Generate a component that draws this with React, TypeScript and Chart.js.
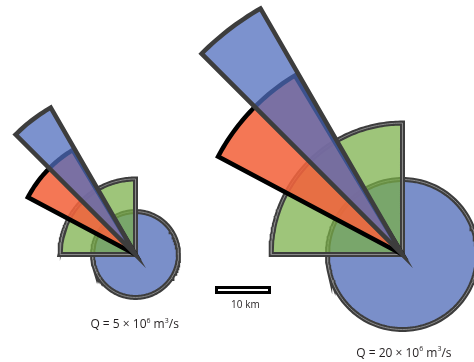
import React, { useEffect, useRef } from 'react';
import { Chart, registerables } from 'chart.js';
Chart.register(...registerables);

const W = 474;
const H = 362;
const PX_PER_KM = 5.3;

// Discharge of each case, in 10^6 m^3/s
const discharges = [5, 20];
// Apex of each rose (km)
const centerX = [25.57, 75.94];
const centerY = [20.28, 20.28];
// Radii of the shapes (km)
const circleRadius = [8.1, 14.15];
const greenRadius = [14.25, 24.8];
const redRadius = [23.0, 39.4];
const blueRadius = [32.0, 53.6];
// Angular extents (degrees, counter-clockwise from east)
const greenAngles = [90, 180];
const redAngles = [121, 152];
const blueAngles = [120, 135];
// Scale bar (km)
const scaleBarStart = [40.85, 13.11];
const scaleBarLength = 10;
const scaleBarHeight = 0.95;
const scaleBarLabel = '10 km';
const scaleBarLabelPos = [46.3, 10.8];
const labelPosX = [25.4, 76.2];
const labelPosY = [7.3, 1.85];

type P = { x: number; y: number };

function sector(cx: number, cy: number, r: number, a0: number, a1: number): P[] {
  const pts: P[] = [{ x: cx, y: cy }];
  const n = Math.max(8, Math.ceil(Math.abs(a1 - a0)));
  for (let i = 0; i <= n; i++) {
    const a = ((a0 + ((a1 - a0) * i) / n) * Math.PI) / 180;
    pts.push({ x: cx + r * Math.cos(a), y: cy + r * Math.sin(a) });
  }
  pts.push({ x: cx, y: cy });
  pts.push(pts[1]);
  return pts;
}

function circle(cx: number, cy: number, r: number): P[] {
  const pts: P[] = [];
  for (let i = 0; i <= 360; i += 2) {
    const a = (i * Math.PI) / 180;
    pts.push({ x: cx + r * Math.cos(a), y: cy + r * Math.sin(a) });
  }
  pts.push(pts[1]);
  return pts;
}

function rect(x: number, y: number, w: number, h: number): P[] {
  return [
    { x, y },
    { x: x + w, y },
    { x: x + w, y: y + h },
    { x, y: y + h },
    { x, y },
    { x: x + w, y },
  ];
}

const DARK = '#3d3d3d';
const LIGHT = '#8c8c8c';

function buildDatasets() {
  const layers: any[] = [];
  const shape = (data: P[], fillColor: string | null, border: string, bw: number) => ({
    data,
    showLine: true,
    fill: fillColor ? 'shape' : false,
    backgroundColor: fillColor || 'rgba(0,0,0,0)',
    borderColor: border,
    borderWidth: bw,
    borderJoinStyle: 'miter',
    pointRadius: 0,
    pointHoverRadius: 0,
    tension: 0,
  });
  for (let g = 0; g < discharges.length; g++) {
    const cx = centerX[g];
    const cy = centerY[g];
    const c = circle(cx, cy, circleRadius[g]);
    layers.push(shape(c, '#7a8fc9', DARK, 5));
    layers.push(shape(c, null, LIGHT, 1));
    const gr = sector(cx, cy, greenRadius[g], greenAngles[0], greenAngles[1]);
    layers.push(shape(gr, 'rgba(120,175,70,0.72)', DARK, 5));
    layers.push(shape(gr, null, LIGHT, 1));
    const rd = sector(cx, cy, redRadius[g], redAngles[0], redAngles[1]);
    layers.push(shape(rd, 'rgba(242,100,62,0.88)', '#000000', 4.5));
    const bl = sector(cx, cy, blueRadius[g], blueAngles[0], blueAngles[1]);
    layers.push(shape(bl, 'rgba(80,110,190,0.75)', DARK, 4.5));
  }
  layers.push(shape(rect(scaleBarStart[0], scaleBarStart[1], scaleBarLength, scaleBarHeight), '#ffffff', '#000000', 3));
  layers.forEach((l, i) => (l.order = layers.length - i));
  return layers;
}

function drawSupText(ctx: CanvasRenderingContext2D, parts: [string, boolean][], cx: number, cy: number, size: number) {
  const normal = `${size}px "Open Sans", sans-serif`;
  const small = `${Math.round(size * 0.62)}px "Open Sans", sans-serif`;
  let total = 0;
  for (const [t, sup] of parts) {
    ctx.font = sup ? small : normal;
    total += ctx.measureText(t).width;
  }
  let x = cx - total / 2;
  ctx.textBaseline = 'alphabetic';
  ctx.textAlign = 'left';
  for (const [t, sup] of parts) {
    ctx.font = sup ? small : normal;
    ctx.fillText(t, x, sup ? cy + size * 0.36 - size * 0.42 : cy + size * 0.36);
    x += ctx.measureText(t).width;
  }
}

const labelsPlugin = {
  id: 'labels',
  afterDraw(chart: any) {
    const ctx = chart.ctx as CanvasRenderingContext2D;
    const xs = chart.scales.x;
    const ys = chart.scales.y;
    ctx.save();
    ctx.fillStyle = '#231f20';
    for (let g = 0; g < discharges.length; g++) {
      drawSupText(
        ctx,
        [
          [`Q = ${discharges[g]} × 10`, false],
          ['6', true],
          [' m', false],
          ['3', true],
          ['/s', false],
        ],
        xs.getPixelForValue(labelPosX[g]),
        ys.getPixelForValue(labelPosY[g]),
        12
      );
    }
    ctx.font = '10px "Open Sans", sans-serif';
    ctx.textAlign = 'center';
    ctx.textBaseline = 'middle';
    ctx.fillText(scaleBarLabel, xs.getPixelForValue(scaleBarLabelPos[0]), ys.getPixelForValue(scaleBarLabelPos[1]));
    ctx.restore();
  },
};

export default function App() {
  const ref = useRef<HTMLCanvasElement>(null);
  useEffect(() => {
    document.body.style.margin = '0';
    const chart = new Chart(ref.current!, {
      type: 'scatter',
      data: { datasets: buildDatasets() },
      options: {
        animation: false,
        responsive: false,
        maintainAspectRatio: false,
        events: [],
        layout: { padding: 0, autoPadding: false },
        plugins: { legend: { display: false }, tooltip: { enabled: false } },
        scales: {
          x: { type: 'linear', display: false, min: 0, max: W / PX_PER_KM },
          y: { type: 'linear', display: false, min: 0, max: H / PX_PER_KM },
        },
      } as any,
      plugins: [labelsPlugin],
    });
    return () => chart.destroy();
  }, []);
  return (
    <div style={{ position: 'fixed', left: 0, top: 0, width: W, height: H, background: '#fff' }}>
      <canvas ref={ref} width={W} height={H} />
    </div>
  );
}
